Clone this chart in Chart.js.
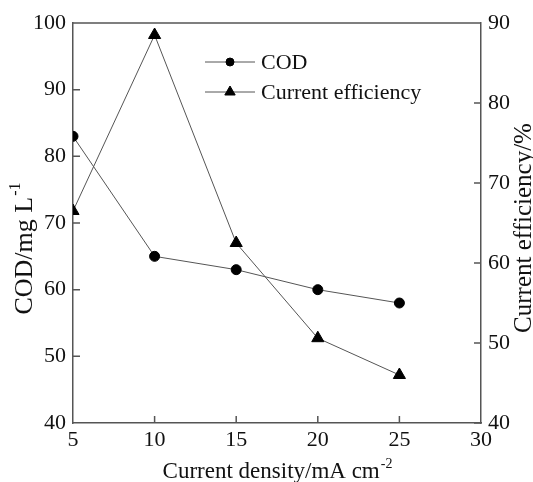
<!DOCTYPE html>
<html><head><meta charset="utf-8">
<script src="https://cdn.jsdelivr.net/npm/chart.js@4"></script>
<style>html,body{margin:0;padding:0;background:#fff}#wrap{width:533px;height:482px;position:relative}</style>
</head><body><div id="wrap"><canvas id="c" width="533" height="482"></canvas></div>
<script>
// ---- data ----
const currentDensity = [5, 10, 15, 20, 25];
const codValues = [83, 65, 63, 60, 58];
const efficiencyValues = [66.5, 88.5, 62.5, 50.6, 46];
const xTickValues = [5, 10, 15, 20, 25, 30];
const codTickValues = [40, 50, 60, 70, 80, 90, 100];
const effTickValues = [40, 50, 60, 70, 80, 90];
const seriesNames = ['COD', 'Current efficiency'];

const FONT = '"Liberation Serif", "Times New Roman", serif';
const AXIS_COLOR = '#555';
const TEXT_COLOR = '#111';

function pts(xs, ys) { return xs.map((x, i) => ({ x: x, y: ys[i] })); }

function drawSupText(ctx, base, sup, x, y, size) {
  ctx.font = size + 'px ' + FONT;
  const wb = ctx.measureText(base).width;
  ctx.font = Math.round(size * 0.6) + 'px ' + FONT;
  const ws = ctx.measureText(sup).width;
  const total = wb + ws;
  const x0 = x - total / 2;
  ctx.textAlign = 'left';
  ctx.textBaseline = 'alphabetic';
  ctx.font = size + 'px ' + FONT;
  ctx.fillText(base, x0, y);
  ctx.font = Math.round(size * 0.6) + 'px ' + FONT;
  ctx.fillText(sup, x0 + wb + 1, y - size * 0.45);
}

const decor = {
  id: 'decor',
  afterDraw(chart) {
    const ctx = chart.ctx;
    const a = chart.chartArea;
    const sx = chart.scales.x, sy = chart.scales.y, sy1 = chart.scales.y1;
    ctx.save();
    ctx.strokeStyle = AXIS_COLOR;
    ctx.lineWidth = 1.5;
    ctx.beginPath();
    ctx.moveTo(a.left, a.top);
    ctx.lineTo(a.right, a.top);
    ctx.stroke();
    const TL = 7;
    ctx.beginPath();
    xTickValues.forEach(v => {
      if (v === xTickValues[0] || v === xTickValues[xTickValues.length - 1]) return;
      const px = sx.getPixelForValue(v);
      ctx.moveTo(px, a.bottom); ctx.lineTo(px, a.bottom - TL);
    });
    codTickValues.forEach(v => {
      if (v === codTickValues[0] || v === codTickValues[codTickValues.length - 1]) return;
      const py = sy.getPixelForValue(v);
      ctx.moveTo(a.left, py); ctx.lineTo(a.left + TL, py);
    });
    effTickValues.forEach(v => {
      if (v === effTickValues[effTickValues.length - 1]) return;
      const py = sy1.getPixelForValue(v);
      ctx.moveTo(a.right, py); ctx.lineTo(a.right - TL, py);
    });
    ctx.stroke();

    // legend
    const rows = [62, 92];
    const lx0 = 205, lx1 = 255, mx = 230, tx = 261;
    chart.data.datasets.forEach((ds, i) => {
      const y = rows[i];
      ctx.strokeStyle = ds.borderColor;
      ctx.lineWidth = ds.borderWidth;
      ctx.beginPath(); ctx.moveTo(lx0, y); ctx.lineTo(lx1, y); ctx.stroke();
      ctx.fillStyle = ds.pointBackgroundColor;
      ctx.strokeStyle = ds.pointBorderColor;
      Chart.helpers.drawPoint(ctx, {
        pointStyle: ds.pointStyle, radius: ds.pointRadius - 1, borderWidth: 1, rotation: 0
      }, mx, y);
      ctx.fillStyle = TEXT_COLOR;
      ctx.font = '22px ' + FONT;
      ctx.textAlign = 'left';
      ctx.textBaseline = 'middle';
      ctx.fillText(seriesNames[i], tx, y + 1);
    });
    ctx.restore();

    // axis titles
    ctx.save();
    ctx.fillStyle = TEXT_COLOR;
    drawSupText(ctx, 'Current density/mA cm', '-2', (a.left + a.right) / 2, 478, 23);
    ctx.restore();

    ctx.save();
    ctx.fillStyle = TEXT_COLOR;
    ctx.translate(32, 249);
    ctx.rotate(-Math.PI / 2);
    drawSupText(ctx, 'COD/mg L', '-1', 0, 0, 26);
    ctx.restore();

    ctx.save();
    ctx.fillStyle = TEXT_COLOR;
    ctx.translate(531, 228);
    ctx.rotate(-Math.PI / 2);
    ctx.font = '25px ' + FONT;
    ctx.textAlign = 'center';
    ctx.textBaseline = 'alphabetic';
    ctx.fillText('Current efficiency/%', 0, 0);
    ctx.restore();
  }
};

const tickFont = { family: FONT, size: 22 };

new Chart(document.getElementById('c'), {
  type: 'line',
  data: {
    datasets: [
      {
        label: seriesNames[0],
        data: pts(currentDensity, codValues),
        yAxisID: 'y',
        borderColor: '#555', borderWidth: 1,
        pointStyle: 'circle', pointRadius: 5,
        pointBackgroundColor: '#000', pointBorderColor: '#000',
        tension: 0
      },
      {
        label: seriesNames[1],
        data: pts(currentDensity, efficiencyValues),
        yAxisID: 'y1',
        borderColor: '#555', borderWidth: 1,
        pointStyle: 'triangle', pointRadius: 7,
        pointBackgroundColor: '#000', pointBorderColor: '#000',
        tension: 0
      }
    ]
  },
  options: {
    responsive: false,
    animation: false,
    devicePixelRatio: 1,
    layout: { padding: { top: 23, left: 0, right: 0, bottom: 0 } },
    plugins: { legend: { display: false }, tooltip: { enabled: false } },
    scales: {
      x: {
        type: 'linear', min: 5, max: 30,
        grid: { display: false, drawTicks: false },
        border: { display: true, color: AXIS_COLOR, width: 1.5 },
        ticks: { stepSize: 5, font: tickFont, color: TEXT_COLOR, padding: 4,
                 callback: v => xTickValues.includes(v) ? String(v) : '' },
        afterFit(s) { s.height = 59; }
      },
      y: {
        type: 'linear', position: 'left', min: 40, max: 100,
        grid: { display: false, drawTicks: false },
        border: { display: true, color: AXIS_COLOR, width: 1.5 },
        ticks: { stepSize: 10, font: tickFont, color: TEXT_COLOR, padding: 7,
                 callback: v => codTickValues.includes(v) ? String(v) : '' },
        afterFit(s) { s.width = 73; }
      },
      y1: {
        type: 'linear', position: 'right', min: 40, max: 90,
        grid: { display: false, drawTicks: false },
        border: { display: true, color: AXIS_COLOR, width: 1.5 },
        ticks: { stepSize: 10, font: tickFont, color: TEXT_COLOR, padding: 7,
                 callback: v => effTickValues.includes(v) ? String(v) : '' },
        afterFit(s) { s.width = 52; }
      }
    }
  },
  plugins: [decor]
});
</script>
</body></html>
